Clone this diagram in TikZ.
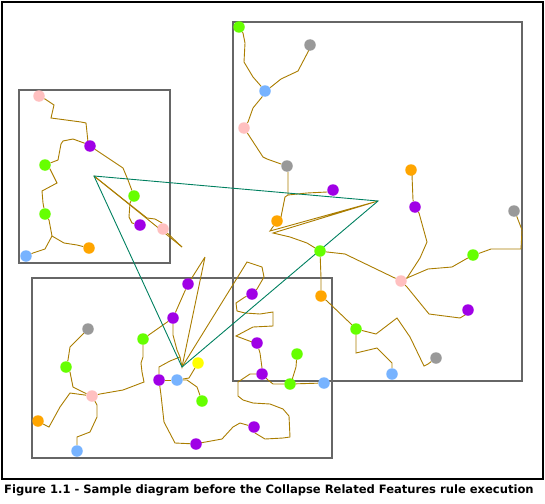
\documentclass[tikz,border=0pt]{standalone}
\usepackage{fontspec}
\newfontfamily\capfont{DejaVu Sans}
\usetikzlibrary{backgrounds}
\definecolor{featbrown}{RGB}{170,125,0}
\definecolor{tealline}{RGB}{0,128,96}
\definecolor{boxgray}{RGB}{102,102,102}
\definecolor{dgreen}{RGB}{102,255,0}
\definecolor{dpurple}{RGB}{160,0,230}
\definecolor{dpink}{RGB}{255,192,192}
\definecolor{dgray}{RGB}{153,153,153}
\definecolor{dblue}{RGB}{119,179,255}
\definecolor{dorange}{RGB}{255,165,0}
\definecolor{dyellow}{RGB}{255,255,0}
\begin{document}
\begin{tikzpicture}[x=1pt,y=-1pt,line join=round,line cap=round]
	\tikzset{dot/.style={circle,inner sep=0pt,minimum size=11.5pt,fill=#1},
		feat/.style={draw=featbrown,line width=0.9pt},
		link/.style={draw=tealline,line width=0.9pt},
		frame/.style={draw=boxgray,line width=1.3pt}}
	\useasboundingbox (0,0) rectangle (545,503);
	% Dots: upper left box
	\foreach \n/\c/\p in {a1/dpink/{(39,96)},a2/dpurple/{(90,146)},a3/dgreen/{(45,165)},
		a4/dgreen/{(134,196)},a5/dgreen/{(45,214)},a6/dpurple/{(140,225)},
		a7/dpink/{(163,229)},a8/dorange/{(89,248)},a9/dblue/{(26,256)}}
		\node[dot=\c] (\n) at \p {};
	% Dots: right box
	\foreach \n/\c/\p in {b1/dgreen/{(239,27)},b2/dgray/{(310,45)},b3/dblue/{(265,91)},
		b4/dpink/{(244,128)},b5/dgray/{(287,166)},b6/dorange/{(411,170)},
		b7/dpurple/{(333,190)},b8/dpurple/{(415,207)},b9/dgray/{(514,211)},
		b10/dorange/{(277,221)},b11/dgreen/{(320,251)},b12/dgreen/{(473,255)},
		b13/dpink/{(401,281)},b14/dorange/{(321,296)},b15/dpurple/{(468,310)},
		b16/dgreen/{(356,329)},b17/dgray/{(436,358)},b18/dblue/{(392,374)}}
		\node[dot=\c] (\n) at \p {};
	% Dots: bottom box
	\foreach \n/\c/\p in {c1/dpurple/{(188,284)},c2/dpurple/{(252,294)},c3/dpurple/{(173,318)},
		c4/dgray/{(88,329)},c5/dgreen/{(143,339)},c6/dpurple/{(257,343)},
		c7/dgreen/{(297,354)},c8/dyellow/{(198,363)},c9/dgreen/{(66,367)},
		c10/dpurple/{(262,374)},c11/dpurple/{(159,380)},c12/dblue/{(177,380)},
		c13/dgreen/{(290,384)},c14/dblue/{(324,383)},c15/dpink/{(92,396)},
		c16/dgreen/{(202,401)},c17/dorange/{(38,421)},c18/dpurple/{(254,427)},
		c19/dpurple/{(196,444)},c20/dblue/{(77,451)}}
		\node[dot=\c] (\n) at \p {};
	% Collapse points
	\coordinate (va) at (94,176);
	\coordinate (vb) at (378,201);
	\coordinate (vc) at (182,367);
	\coordinate (sa) at (182,247);
	\coordinate (sb) at (270,231);
	\coordinate (sc) at (205,257);
	\coordinate (sd) at (247,262);
	\coordinate (aj) at (52,236);
	\coordinate (bj) at (288,195);
	\node[anchor=west,inner sep=0pt] (cap) at (4,490)
		{\capfont\bfseries\fontsize{11.55}{13}\selectfont Figure 1.1 - Sample diagram before the Collapse Related Features rule execution};
	\begin{pgfonlayer}{background}
		\draw[line width=1.3pt] (2,2) rectangle (543,479);
		\draw[frame] (19,90) rectangle (170,263);
		\draw[frame] (233,22) rectangle (522,381);
		\draw[frame] (32,278) rectangle (332,458);
		% Upper left box
		\draw[feat] (a1) -- (45,99) -- (54,105) -- (51,118) -- (81,122) -- (86,123) -- (88,142) -- (a2);
		\draw[feat] (a2) -- (84,143) -- (73,139) -- (63,141) -- (61,144) -- (58,160) -- (a3);
		\draw[feat] (a3) -- (50,169) -- (57,183) -- (42,191) -- (43,203) -- (a5);
		\draw[feat] (a5) -- (49,220) -- (aj) -- (64,243) -- (77,245) -- (a8);
		\draw[feat] (aj) -- (45,249) -- (33,253) -- (a9);
		\draw[feat] (a2) -- (123,168) -- (128,180) -- (a4);
		\draw[feat] (a4) -- (130,203) -- (129,217) -- (132,223) -- (a6);
		\draw[feat] (va) -- (sa);
		\draw[feat] (va) -- (147,218) -- (155,219) -- (162,223) -- (a7) -- (sa);
		% Right box
		\draw[feat] (b1) -- (243,33) -- (245,43) -- (244,62) -- (253,77) -- (260,85) -- (b3);
		\draw[feat] (b2) -- (309,50) -- (298,71) -- (281,79) -- (271,87) -- (b3);
		\draw[feat] (b3) -- (262,97) -- (253,108) -- (248,122) -- (b4);
		\draw[feat] (b4) -- (248,134) -- (263,157) -- (267,159) -- (281,164) -- (b5);
		\draw[feat] (b5) -- (288,172) -- (bj) -- (285,197) -- (281,217) -- (b10) -- (sb) -- (vb)
			-- (273,233) -- (290,237) -- (307,243) -- (b11);
		\draw[feat] (b7) -- (327,192) -- (307,193) -- (bj);
		\draw[feat] (b6) -- (412,175) -- (413,200) -- (b8);
		\draw[feat] (b8) -- (419,213) -- (427,242) -- (420,258) -- (407,278) -- (b13);
		\draw[feat] (b9) -- (517,217) -- (522,230) -- (521,249) -- (491,249) -- (480,253) -- (b12);
		\draw[feat] (b12) -- (452,267) -- (428,269) -- (407,278) -- (b13);
		\draw[feat] (b13) -- (345,254) -- (327,252) -- (b11);
		\draw[feat] (b13) -- (407,287) -- (429,314) -- (460,318) -- (465,315) -- (b15);
		\draw[feat] (b11) -- (321,278) -- (b14);
		\draw[feat] (b14) -- (327,301) -- (350,323) -- (b16);
		\draw[feat] (b16) -- (376,334) -- (397,318) -- (410,337) -- (424,366) -- (428,364) -- (b17);
		\draw[feat] (b16) -- (356,353) -- (377,348) -- (392,363) -- (b18);
		% Bottom box
		\draw[feat] (c2) -- (257,289) -- (264,277) -- (262,267) -- (sd) -- (vc);
		\draw[feat] (c2) -- (245,297) -- (236,303) -- (237,311) -- (245,313) -- (260,314) -- (273,312)
			-- (273,326) -- (253,327) -- (236,336) -- (252,342) -- (c6);
		\draw[feat] (c6) -- (260,353) -- (262,368) -- (c10);
		\draw[feat] (c7) -- (296,367) -- (292,380) -- (c13);
		\draw[feat] (c10) -- (268,380) -- (273,384) -- (c13) -- (c14);
		\draw[feat] (c10) -- (250,374) -- (238,382) -- (238,396) -- (243,400) -- (253,403) -- (270,404)
			-- (283,409) -- (289,416) -- (290,437) -- (283,438) -- (265,439) -- (255,433) -- (c18);
		\draw[feat] (c18) -- (240,423) -- (233,427) -- (222,439) -- (200,443) -- (c19);
		\draw[feat] (c19) -- (175,443) -- (164,422) -- (161,395) -- (c11);
		\draw[feat] (c11) -- (c12);
		\draw[feat] (c12) -- (189,378) -- (c8);
		\draw[feat] (c12) -- (187,380) -- (197,387) -- (c16);
		\draw[feat] (c11) -- (159,367) -- (170,361) -- (180,357);
		\draw[feat] (sc) -- (c1) -- (c3) -- (173,335) -- (177,350) -- (180,357) -- (vc) -- (sc);
		\draw[feat] (c3) -- (c5);
		\draw[feat] (c5) -- (143,357) -- (141,363) -- (142,372) -- (144,382) -- (123,390) -- (100,394) -- (c15);
		\draw[feat] (c4) -- (70,347) -- (68,360) -- (c9);
		\draw[feat] (c9) -- (70,372) -- (73,387) -- (85,393) -- (c15);
		\draw[feat] (c15) -- (70,393) -- (60,407) -- (49,427) -- (45,425) -- (c17);
		\draw[feat] (c15) -- (97,405) -- (97,417) -- (90,432) -- (77,437) -- (77,443) -- (c20);
		% Collapse triangle
		\draw[link] (va) -- (vb) -- (vc) -- cycle;
	\end{pgfonlayer}
\end{tikzpicture}
\end{document}
